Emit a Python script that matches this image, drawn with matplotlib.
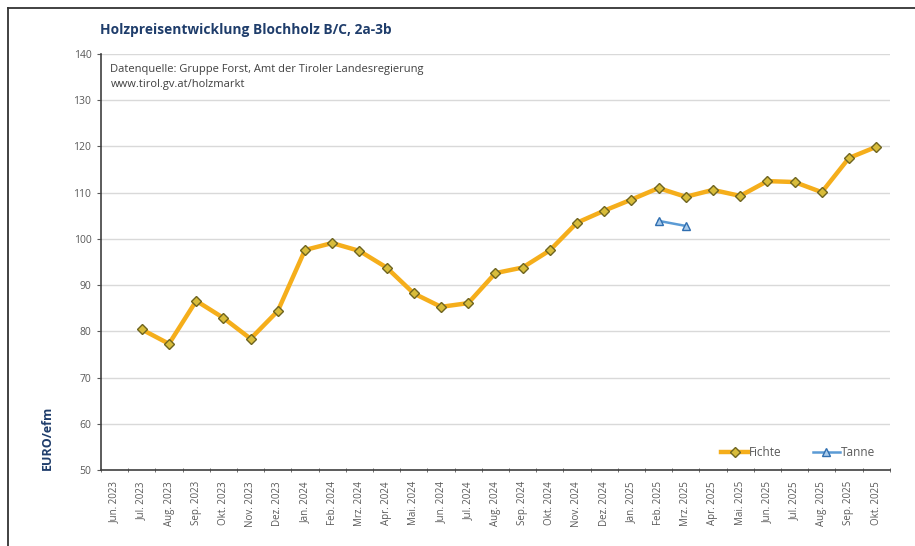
import matplotlib
matplotlib.use("Agg")
import matplotlib.pyplot as plt
from matplotlib.lines import Line2D

plt.rcParams['font.family'] = ['Open Sans', 'DejaVu Sans']

months = ["Jun. 2023", "Jul. 2023", "Aug. 2023", "Sep. 2023", "Okt. 2023", "Nov. 2023",
          "Dez. 2023", "Jan. 2024", "Feb. 2024", "Mrz. 2024", "Apr. 2024", "Mai. 2024",
          "Jun. 2024", "Jul. 2024", "Aug. 2024", "Sep. 2024", "Okt. 2024", "Nov. 2024",
          "Dez. 2024", "Jan. 2025", "Feb. 2025", "Mrz. 2025", "Apr. 2025", "Mai. 2025",
          "Jun. 2025", "Jul. 2025", "Aug. 2025", "Sep. 2025", "Okt. 2025"]
fichte = [None, 80.4, 77.3, 86.6, 82.9, 78.4, 84.4, 97.6, 99.1, 97.4, 93.8, 88.2,
          85.3, 86.1, 92.6, 93.8, 97.5, 103.5, 106.1, 108.5, 111.0, 109.1, 110.6,
          109.3, 112.5, 112.3, 110.1, 117.5, 119.9]
tanne = [None] * 20 + [103.9, 102.8] + [None] * 7

title = "Holzpreisentwicklung Blochholz B/C, 2a-3b"
source1 = "Datenquelle: Gruppe Forst, Amt der Tiroler Landesregierung"
source2 = "www.tirol.gv.at/holzmarkt"
ylabel = "EURO/efm"

navy = "#1F3D6B"
gray = "#595959"
orange = "#F5AE1B"

fig = plt.figure(figsize=(9.15, 5.46), dpi=100)
ax = fig.add_axes([0.1104, 0.1392, 0.862, 0.7619])

x = list(range(len(months)))
fx = [i for i, v in zip(x, fichte) if v is not None]
fy = [v for v in fichte if v is not None]
tx = [i for i, v in zip(x, tanne) if v is not None]
ty = [v for v in tanne if v is not None]

ax.plot(fx, fy, color=orange, lw=3.2, marker='D', ms=4.6, mfc="#D8BC3A",
        mec="#6E6420", mew=1.0, label="Fichte", zorder=3)
ax.plot(tx, ty, color="#5B9BD5", lw=1.8, marker='^', ms=5.5, mfc="#A9CBEB",
        mec="#2F6EB0", mew=1.0, label="Tanne", zorder=3)

ax.set_xlim(-0.5, len(months) - 0.5)
ax.set_ylim(50, 140)
ax.set_yticks(range(50, 141, 10))
ax.grid(axis='y', color="#D9D9D9", lw=1.0)
ax.set_axisbelow(True)

ax.set_xticks(x)
ax.set_xticklabels(months, rotation=90, fontsize=7, color=gray)
ax.set_xticks([i - 0.5 for i in range(len(months) + 1)], minor=True)
ax.tick_params(axis='x', which='major', length=0, pad=8)
ax.tick_params(axis='x', which='minor', length=3, direction='inout', color=gray)
ax.tick_params(axis='y', labelsize=7.5, labelcolor=gray, length=3, color=gray, pad=4)

for s in ['top', 'right']:
    ax.spines[s].set_visible(False)
for s in ['left', 'bottom']:
    ax.spines[s].set_color("#404040")
    ax.spines[s].set_linewidth(1.2)

fig.text(100 / 915, 1 - 30 / 546, title, fontsize=9.9, fontweight='bold', color=navy,
         va='center', ha='left')
ax.text(0.012, 0.975, source1 + "\n" + source2, transform=ax.transAxes, fontsize=8.0,
        color="#404040", va='top', ha='left', linespacing=1.45)
fig.text(47 / 915, 1 - 470 / 546, ylabel, rotation=90, fontsize=9, fontweight='bold',
         color=navy, ha='center', va='bottom')

leg = ax.legend(loc='lower right', bbox_to_anchor=(0.995, 0.0), ncol=2, frameon=False,
                fontsize=8.5, handlelength=2.3, columnspacing=2.6, handletextpad=0.1)
for t in leg.get_texts():
    t.set_color(gray)

# outer frame (top and left)
fig.add_artist(Line2D([8 / 915, 1], [1 - 8 / 546, 1 - 8 / 546], color="#333333", lw=1.3))
fig.add_artist(Line2D([8 / 915, 8 / 915], [0, 1 - 8 / 546], color="#333333", lw=1.3))

fig.savefig("out.png", dpi=100)
